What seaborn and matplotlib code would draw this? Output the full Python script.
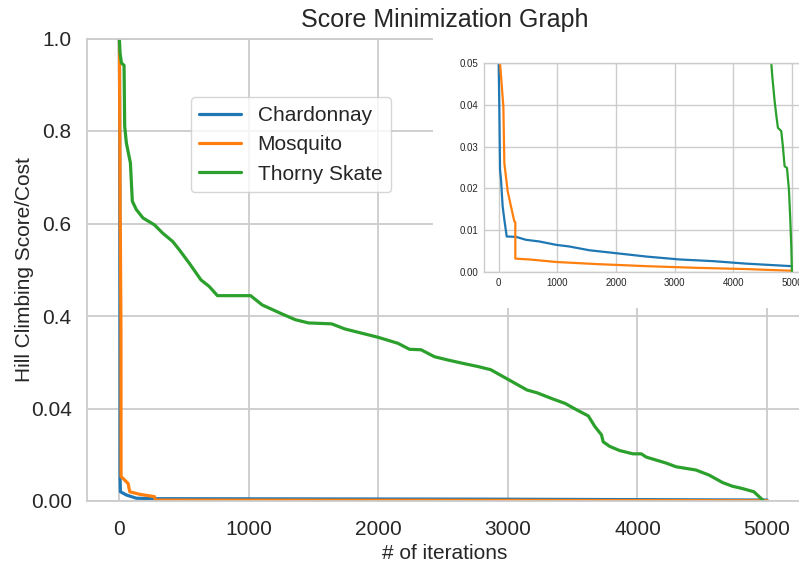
import numpy as np
import pandas as pd
import matplotlib
matplotlib.use("Agg")
import matplotlib.pyplot as plt
from matplotlib.patches import Rectangle
from matplotlib.ticker import FormatStrFormatter
import seaborn as sns

# ---------------- data ----------------
series_names = ["Chardonnay", "Mosquito", "Thorny Skate"]
series_colors = ["#1f77b4", "#ff7f0e", "#2ca02c"]

# main panel (values in the panel's plotted 0..1 space)
chard_x = [0, 2, 4, 5, 5, 8, 54, 131, 284, 1500, 2840, 5000]
chard_y = [1.0, 0.85, 0.60, 0.30, 0.053, 0.020, 0.013, 0.006, 0.005, 0.0045, 0.004, 0.002]

mosq_x = [0, 3, 6, 9, 12, 13, 67, 80, 156, 271, 277, 2840, 5000]
mosq_y = [1.0, 0.81, 0.62, 0.51, 0.38, 0.053, 0.038, 0.020, 0.0145, 0.0094, 0.002, 0.0015, 0.0005]

thorny_x = [0, 5, 16, 36, 41, 54, 85, 100, 131, 182, 271, 335, 412, 463, 540, 630,
            693, 757, 1013, 1102, 1243, 1358, 1460, 1639, 1741, 1869, 1997, 2150,
            2240, 2329, 2432, 2534, 2662, 2764, 2866, 2981, 3147, 3224, 3352, 3441,
            3531, 3620, 3671, 3722, 3735, 3786, 3863, 3965, 4029, 4067, 4221, 4298,
            4451, 4553, 4656, 4732, 4809, 4898, 4975]
thorny_y = [1.0, 0.969, 0.947, 0.942, 0.81, 0.774, 0.731, 0.648, 0.630, 0.612, 0.597,
            0.579, 0.561, 0.543, 0.514, 0.478, 0.464, 0.444, 0.444, 0.424, 0.406,
            0.392, 0.385, 0.383, 0.372, 0.363, 0.354, 0.341, 0.328, 0.327, 0.312,
            0.305, 0.297, 0.291, 0.284, 0.266, 0.240, 0.234, 0.220, 0.211, 0.197,
            0.184, 0.161, 0.143, 0.128, 0.118, 0.109, 0.102, 0.102, 0.095, 0.082,
            0.074, 0.067, 0.056, 0.040, 0.032, 0.027, 0.020, 0.0]

main_yticks = [0.0, 0.2, 0.4, 0.6, 0.8, 1.0]
main_yticklabels = ["0.00", "0.04", "0.4", "0.6", "0.8", "1.0"]
main_xticks = [0, 1000, 2000, 3000, 4000, 5000]

# inset (zoomed view, 0..0.05)
in_chard_x = [0, 0, 11, 23, 40, 68, 97, 137, 296, 466, 694, 978, 1206, 1547, 2002,
              2514, 3083, 3652, 4221, 4989]
in_chard_y = [1.0, 0.05, 0.0396, 0.0245, 0.0221, 0.0157, 0.0125, 0.0085, 0.0084,
              0.0077, 0.0073, 0.0065, 0.0061, 0.0052, 0.0045, 0.0037, 0.0030,
              0.0026, 0.0020, 0.0014]
in_mosq_x = [0, 23, 80, 97, 154, 210, 267, 284, 284, 523, 978, 1661, 2514, 3367,
             4221, 4989]
in_mosq_y = [1.0, 0.05, 0.0396, 0.026, 0.0193, 0.0157, 0.0121, 0.0119, 0.0032,
             0.0030, 0.0024, 0.0019, 0.0014, 0.0010, 0.0007, 0.0003]
in_thorny_x = [4600, 4648, 4665, 4704, 4733, 4761, 4818, 4846, 4875, 4915, 4949,
               4972, 4989, 5000]
in_thorny_y = [0.09, 0.05, 0.0468, 0.041, 0.0375, 0.0345, 0.0337, 0.030, 0.0253,
               0.0249, 0.0197, 0.0125, 0.0061, 0.0]
inset_yticks = [0.0, 0.01, 0.02, 0.03, 0.04, 0.05]
inset_xticks = [0, 1000, 2000, 3000, 4000, 5000]


def to_long(xs, ys):
    frames = []
    for name, x, y in zip(series_names, xs, ys):
        frames.append(pd.DataFrame({"iteration": x, "score": y, "series": name}))
    return pd.concat(frames, ignore_index=True)


main_df = to_long([chard_x, mosq_x, thorny_x], [chard_y, mosq_y, thorny_y])
inset_df = to_long([in_chard_x, in_mosq_x, in_thorny_x],
                   [in_chard_y, in_mosq_y, in_thorny_y])

# ---------------- style ----------------
sns.set_theme(style="whitegrid")
plt.rcParams["font.family"] = ["Liberation Sans", "DejaVu Sans"]
plt.rcParams["grid.color"] = "#cccccc"

W, H = 799, 565
fig = plt.figure(figsize=(W / 100, H / 100), dpi=100)

# main axes
ax = fig.add_axes([87 / W, 1 - 501 / H, (802 - 87) / W, (501 - 38.5) / H])
sns.lineplot(data=main_df, x="iteration", y="score", hue="series",
             hue_order=series_names, palette=series_colors, estimator=None,
             sort=False, linewidth=2.3, ax=ax)
ax.set_xlim(-250, 5270)
ax.set_ylim(0, 1.0)
ax.set_yticks(main_yticks)
ax.set_yticklabels(main_yticklabels)
ax.set_xticks(main_xticks)
ax.tick_params(axis="y", labelsize=15, pad=11, length=0, colors=".15")
ax.tick_params(axis="x", labelsize=15, pad=14, length=0, colors=".15")
ax.grid(True, color="#cccccc", linewidth=1.3)
for s in ax.spines.values():
    s.set_color("#cccccc")
    s.set_linewidth(1.3)
ax.set_title("Score Minimization Graph", fontsize=18, color=".15", pad=8.5)
ax.set_xlabel("# of iterations", fontsize=15, color=".15", labelpad=3.5)
ax.set_ylabel("Hill Climbing Score/Cost", fontsize=15, color=".15")
ax.yaxis.set_label_coords(-0.074, 0.5)
sns.move_legend(ax, "upper left", bbox_to_anchor=(0.131, 0.895), title=None,
                fontsize=15, frameon=True, handlelength=2.0)

# white backdrop behind the inset
fig.patches.append(Rectangle((433 / W, 1 - 308 / H), 0.5, (308 - 34) / H,
                             transform=fig.transFigure, facecolor="white",
                             edgecolor="none", zorder=1))

# inset axes
iax = fig.add_axes([484 / W, 1 - 272 / H, (806.6 - 484) / W, (272 - 63) / H])
iax.set_zorder(3)
sns.lineplot(data=inset_df, x="iteration", y="score", hue="series",
             hue_order=series_names, palette=series_colors, estimator=None,
             sort=False, linewidth=1.6, ax=iax, legend=False)
iax.set_xlim(-250, 5250)
iax.set_ylim(0, 0.05)
iax.set_xticks(inset_xticks)
iax.set_yticks(inset_yticks)
iax.yaxis.set_major_formatter(FormatStrFormatter("%.2f"))
iax.set_xlabel("")
iax.set_ylabel("")
iax.tick_params(axis="both", labelsize=7, pad=4, length=0, colors=".15")
iax.grid(True, color="#cccccc", linewidth=1.0)
for s in iax.spines.values():
    s.set_color("#cccccc")
    s.set_linewidth(1.0)

fig.savefig("out.png", dpi=100)
